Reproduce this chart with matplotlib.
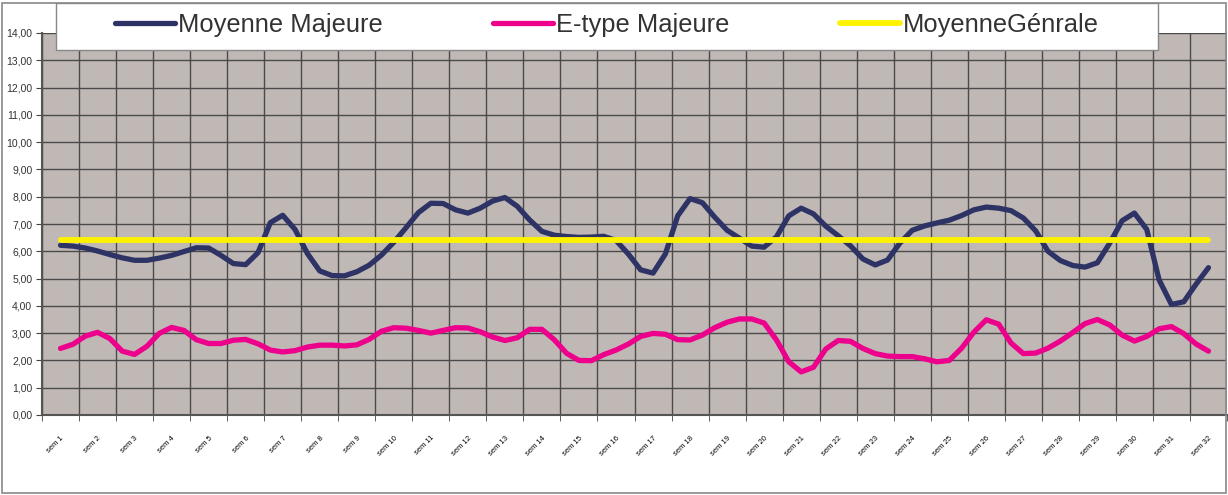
import numpy as np
import matplotlib
matplotlib.use("Agg")
import matplotlib.pyplot as plt
from matplotlib.patches import Rectangle
from matplotlib.ticker import FuncFormatter

plt.rcParams['font.family'] = ['Liberation Sans', 'DejaVu Sans']

# 32 categories, 3 readings per category
labels = ["sem %d" % i for i in range(1, 33)]

moy_majeure = [6.22, 6.19, 6.12, 6.01, 5.88, 5.76, 5.67, 5.67, 5.75, 5.85,
               5.99, 6.13, 6.12, 5.85, 5.55, 5.51, 5.95, 7.05, 7.32, 6.80,
               5.92, 5.28, 5.11, 5.10, 5.25, 5.49, 5.86, 6.33, 6.87, 7.42,
               7.76, 7.75, 7.52, 7.40, 7.58, 7.84, 7.97, 7.65, 7.15, 6.73,
               6.59, 6.54, 6.51, 6.52, 6.55, 6.40, 5.90, 5.32, 5.20, 5.90,
               7.30, 7.93, 7.78, 7.25, 6.77, 6.48, 6.19, 6.15, 6.53, 7.30,
               7.58, 7.37, 6.92, 6.57, 6.20, 5.72, 5.50, 5.68, 6.30, 6.77,
               6.93, 7.04, 7.14, 7.31, 7.52, 7.62, 7.58, 7.49, 7.22, 6.75,
               6.00, 5.66, 5.48, 5.42, 5.58, 6.30, 7.12, 7.40, 6.80, 4.95,
               4.05, 4.15, 4.80, 5.40]

etype_majeure = [2.44, 2.59, 2.89, 3.03, 2.80, 2.34, 2.22, 2.52, 2.99, 3.21,
                 3.10, 2.76, 2.62, 2.62, 2.74, 2.77, 2.61, 2.38, 2.31, 2.36,
                 2.49, 2.56, 2.56, 2.53, 2.57, 2.77, 3.07, 3.20, 3.18, 3.10,
                 3.00, 3.10, 3.20, 3.19, 3.05, 2.86, 2.73, 2.83, 3.14, 3.14,
                 2.76, 2.26, 2.00, 1.99, 2.21, 2.38, 2.60, 2.88, 2.99, 2.96,
                 2.76, 2.75, 2.93, 3.20, 3.40, 3.52, 3.52, 3.37, 2.75, 1.95,
                 1.58, 1.75, 2.42, 2.73, 2.70, 2.44, 2.25, 2.16, 2.14, 2.14,
                 2.06, 1.95, 2.00, 2.45, 3.04, 3.49, 3.33, 2.64, 2.25, 2.27,
                 2.45, 2.71, 3.02, 3.35, 3.50, 3.30, 2.93, 2.71, 2.88, 3.16,
                 3.24, 2.98, 2.60, 2.34]

moy_generale = [6.40] * len(moy_majeure)

x = np.arange(len(moy_majeure)) / 3.0
n_cat = len(labels)

fig = plt.figure(figsize=(12.28, 4.95), dpi=100)
ax = fig.add_axes([42/1228, 1 - 415/495, (1227-42)/1228, (415-33)/495])
ax.set_facecolor('#C0B8B5')

ax.plot(x, moy_majeure, color='#2E3366', lw=3.8, solid_capstyle='round',
        solid_joinstyle='round', label='Moyenne Majeure', zorder=3)
ax.plot(x, etype_majeure, color='#EC008C', lw=3.8, solid_capstyle='round',
        solid_joinstyle='round', label='E-type Majeure', zorder=3)
ax.plot(x, moy_generale, color='#FFF200', lw=4.2, solid_capstyle='round',
        label='MoyenneGénrale', zorder=4)

ax.set_xlim(-0.5, n_cat - 0.5)
ax.set_ylim(0, 14)

# y axis
ax.set_yticks(np.arange(0, 15, 1))
ax.yaxis.set_major_formatter(FuncFormatter(lambda v, p: ('%.2f' % v).replace('.', ',')))
ax.tick_params(axis='y', labelsize=7.5, labelcolor='#333333', length=4,
               color='#444444', direction='out', pad=3)
ax.grid(axis='y', color='#4A4A4A', lw=1.0, zorder=1)

# x axis: labels at category centres, ticks/grid between categories
ax.set_xticks(np.arange(n_cat))
ax.set_xticklabels(labels, rotation=45, ha='right', rotation_mode='anchor',
                   fontsize=5.5, color='black')
ax.tick_params(axis='x', which='major', length=0, pad=14)
ax.set_xticks(np.arange(n_cat + 1) - 0.5, minor=True)
ax.tick_params(axis='x', which='minor', length=4, color='#444444', direction='out')
ax.grid(axis='x', which='minor', color='#4A4A4A', lw=1.0, zorder=1)
ax.set_axisbelow(True)

for s in ['top', 'right']:
    ax.spines[s].set_visible(False)
for s in ['left', 'bottom']:
    ax.spines[s].set_color('#555555')
    ax.spines[s].set_linewidth(1.5)

# legend box overlapping the top of the plot area
fig.patches.append(Rectangle((56/1228, 1 - 50/495), (1158-56)/1228, 47/495,
                             transform=fig.transFigure, facecolor='white',
                             edgecolor='#888888', lw=1.0, zorder=2))
leg = fig.legend(loc='center', ncol=3, bbox_to_anchor=((56+1158)/2/1228, 1 - 25/495),
                 fontsize=18.4, handlelength=2.35, handletextpad=0.12,
                 columnspacing=4.3, frameon=False)
leg.set_zorder(3)
for t in leg.get_texts():
    t.set_color('#333333')

fig.patches.append(Rectangle((2/1228, 2/495), 1224/1228, 490/495, transform=fig.transFigure,
                             fill=False, edgecolor='#888888', lw=1.2))

fig.savefig('out.png', dpi=100)
